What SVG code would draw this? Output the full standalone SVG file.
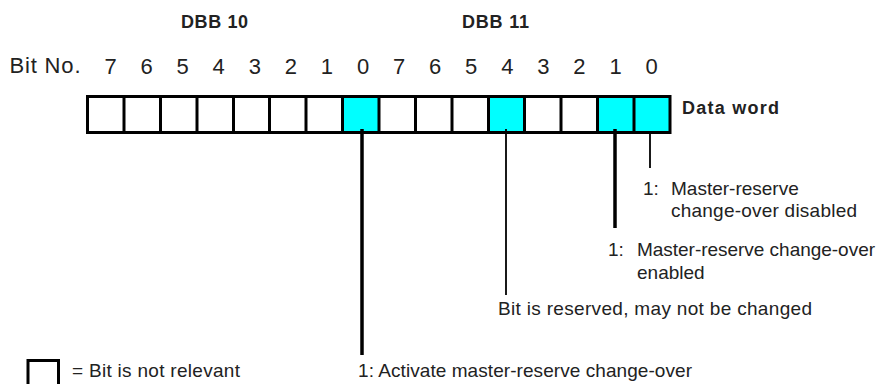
<svg xmlns="http://www.w3.org/2000/svg" width="878" height="384" viewBox="0 0 878 384">
<style>
  text { font-family: "Liberation Sans", Arial, sans-serif; fill: #222; }
  .hdr { font-size: 18px; font-weight: bold; }
  .num { font-size: 22px; text-anchor: middle; }
  .lbl { font-size: 19px; }
  .cell { fill: none; stroke: #000; stroke-width: 3; }
  .on { fill: #00FFFF; stroke: none; }
  .div { stroke: #000; stroke-width: 3; }
  .thick { stroke: #000; stroke-width: 3.5; }
  .thin { stroke: #000; stroke-width: 1.8; }
</style>
<rect width="878" height="384" fill="#fff"/>
<g id="headers">
  <text class="hdr" x="181" y="28" textLength="67" lengthAdjust="spacing">DBB 10</text>
  <text class="hdr" x="462" y="28" textLength="67" lengthAdjust="spacing">DBB 11</text>
</g>
<g id="bitnumbers">
  <text x="9.5" y="73" style="font-size:22px" textLength="71" lengthAdjust="spacing">Bit No.</text>
  <text class="num" x="110.5" y="74">7</text>
  <text class="num" x="146.6" y="74">6</text>
  <text class="num" x="182.6" y="74">5</text>
  <text class="num" x="218.7" y="74">4</text>
  <text class="num" x="254.8" y="74">3</text>
  <text class="num" x="290.9" y="74">2</text>
  <text class="num" x="326.9" y="74">1</text>
  <text class="num" x="363" y="74">0</text>
  <text class="num" x="399.1" y="74">7</text>
  <text class="num" x="435.1" y="74">6</text>
  <text class="num" x="471.2" y="74">5</text>
  <text class="num" x="507.3" y="74">4</text>
  <text class="num" x="543.3" y="74">3</text>
  <text class="num" x="579.4" y="74">2</text>
  <text class="num" x="615.5" y="74">1</text>
  <text class="num" x="651.6" y="74">0</text>
</g>
<g id="dataword">
  <rect class="on" x="342.5" y="96.5" width="36.5" height="36"/>
  <rect class="on" x="488.5" y="96.5" width="36" height="36"/>
  <rect class="on" x="597.5" y="96.5" width="73" height="36"/>
  <rect class="cell" x="87.5" y="96.5" width="582.5" height="36"/>
  <line class="div" x1="124" y1="96.5" x2="124" y2="132.5"/>
  <line class="div" x1="160.5" y1="96.5" x2="160.5" y2="132.5"/>
  <line class="div" x1="197" y1="96.5" x2="197" y2="132.5"/>
  <line class="div" x1="233.5" y1="96.5" x2="233.5" y2="132.5"/>
  <line class="div" x1="269.5" y1="96.5" x2="269.5" y2="132.5"/>
  <line class="div" x1="306" y1="96.5" x2="306" y2="132.5"/>
  <line class="div" x1="342.5" y1="96.5" x2="342.5" y2="132.5"/>
  <line class="div" x1="379" y1="96.5" x2="379" y2="132.5"/>
  <line class="div" x1="415.5" y1="96.5" x2="415.5" y2="132.5"/>
  <line class="div" x1="452" y1="96.5" x2="452" y2="132.5"/>
  <line class="div" x1="488.5" y1="96.5" x2="488.5" y2="132.5"/>
  <line class="div" x1="524.5" y1="96.5" x2="524.5" y2="132.5"/>
  <line class="div" x1="561" y1="96.5" x2="561" y2="132.5"/>
  <line class="div" x1="597.5" y1="96.5" x2="597.5" y2="132.5"/>
  <line class="div" x1="634" y1="96.5" x2="634" y2="132.5"/>
  <text class="hdr" x="682" y="114" textLength="97" lengthAdjust="spacing">Data word</text>
</g>
<g id="connectors">
  <line class="thick" x1="362" y1="129" x2="362" y2="355"/>
  <line class="thin" x1="506" y1="129" x2="506" y2="295"/>
  <line class="thick" x1="615" y1="129" x2="615" y2="228"/>
  <line class="thin" x1="650" y1="132" x2="650" y2="168"/>
</g>
<g id="label-bit0-dbb11">
  <text class="lbl" x="643" y="195">1:</text>
  <text class="lbl" x="671" y="195">Master-reserve</text>
  <text class="lbl" x="671" y="216.5" textLength="186" lengthAdjust="spacing">change-over disabled</text>
</g>
<g id="label-bit1-dbb11">
  <text class="lbl" x="608" y="256">1:</text>
  <text class="lbl" x="637" y="256" textLength="238" lengthAdjust="spacing">Master-reserve change-over</text>
  <text class="lbl" x="637" y="279">enabled</text>
</g>
<g id="label-bit4-dbb11">
  <text class="lbl" x="498" y="315" textLength="314" lengthAdjust="spacing">Bit is reserved, may not be changed</text>
</g>
<g id="label-bit0-dbb10">
  <text class="lbl" x="358" y="377" textLength="334" lengthAdjust="spacing">1: Activate master-reserve change-over</text>
</g>
<g id="legend">
  <rect class="cell" x="28" y="360.5" width="30.5" height="40"/>
  <text class="lbl" x="72" y="377" textLength="168" lengthAdjust="spacing">= Bit is not relevant</text>
</g>
</svg>
